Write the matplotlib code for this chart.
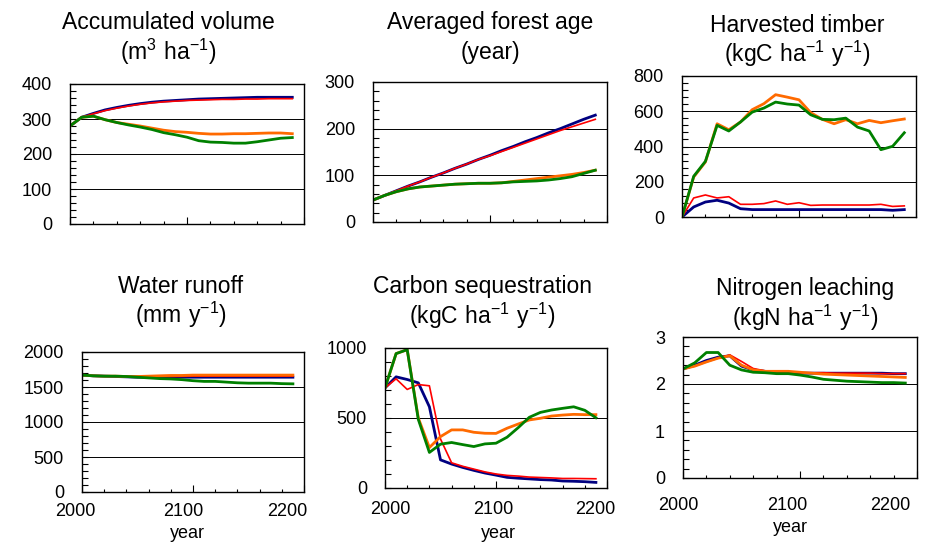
import numpy as np
import matplotlib
matplotlib.use("Agg")
import matplotlib.pyplot as plt
import matplotlib.transforms as mtrans
from matplotlib.ticker import MultipleLocator

plt.rcParams['font.family'] = ['Liberation Sans', 'DejaVu Sans']

years = list(range(2000, 2200, 10))

# accumulated volume (m3/ha)
vol_navy = [280, 305, 316, 326, 333, 339, 344, 348, 351, 353, 355, 357, 358, 359, 360, 361, 362, 362, 362, 362]
vol_red = [280, 305, 315, 324, 331, 337, 342, 346, 349, 351, 353, 354, 355, 356, 356, 357, 357, 358, 358, 358]
vol_orange = [280, 305, 308, 298, 290, 285, 280, 274, 268, 264, 262, 259, 257, 257, 258, 258, 259, 260, 260, 258]
vol_green = [280, 305, 308, 298, 290, 283, 277, 270, 261, 255, 248, 238, 234, 233, 231, 231, 235, 240, 245, 247]

# averaged forest age (year)
age_navy = [47, 57, 67, 77, 86, 96, 105, 115, 124, 134, 143, 153, 162, 172, 181, 191, 200, 210, 220, 229]
age_red = [47, 57, 67, 77, 86, 96, 105, 115, 124, 134, 142, 151, 160, 169, 178, 187, 196, 204, 212, 220]
age_orange = [47, 57, 65, 71, 75, 77, 79, 81, 82, 83, 83, 84, 87, 90, 93, 96, 99, 102, 106, 111]
age_green = [47, 57, 65, 71, 75, 77, 79, 81, 82, 83, 83, 84, 86, 87, 88, 90, 93, 97, 104, 111]

# harvested timber (kgC/ha/y)
harv_navy = [0, 57, 85, 95, 79, 47, 42, 42, 42, 42, 42, 42, 42, 42, 42, 42, 42, 42, 38, 42]
harv_red = [0, 108, 125, 108, 115, 72, 72, 76, 91, 72, 81, 66, 68, 68, 68, 68, 68, 72, 60, 63]
harv_orange = [0, 227, 312, 529, 495, 539, 609, 643, 694, 680, 665, 592, 554, 529, 552, 529, 548, 535, 546, 556]
harv_green = [0, 231, 316, 520, 488, 539, 595, 618, 652, 641, 635, 580, 554, 552, 561, 510, 488, 382, 401, 478]

# water runoff (mm/y)
run_navy = [1670, 1660, 1655, 1650, 1645, 1640, 1640, 1640, 1640, 1640, 1640, 1640, 1640, 1640, 1640, 1640, 1640, 1640, 1640, 1640]
run_red = [1670, 1660, 1655, 1655, 1650, 1648, 1648, 1650, 1650, 1652, 1655, 1655, 1655, 1655, 1655, 1655, 1655, 1655, 1655, 1655]
run_orange = [1670, 1660, 1655, 1655, 1650, 1650, 1655, 1660, 1665, 1665, 1670, 1670, 1670, 1670, 1670, 1670, 1670, 1670, 1670, 1670]
run_green = [1670, 1660, 1655, 1655, 1650, 1640, 1630, 1620, 1615, 1605, 1590, 1580, 1580, 1570, 1560, 1555, 1555, 1555, 1548, 1545]

# carbon sequestration (kgC/ha/y)
seq_navy = [715, 794, 775, 751, 580, 201, 171, 147, 126, 107, 92, 76, 70, 65, 60, 57, 50, 48, 45, 40]
seq_red = [715, 780, 704, 739, 730, 350, 180, 155, 135, 115, 100, 90, 85, 78, 75, 72, 68, 68, 67, 66]
seq_orange = [715, 960, 988, 500, 289, 367, 415, 415, 398, 391, 390, 427, 457, 486, 498, 514, 521, 526, 524, 524]
seq_green = [715, 960, 988, 490, 254, 313, 325, 310, 296, 315, 320, 363, 431, 505, 540, 557, 569, 580, 555, 502]

# nitrogen leaching (kgN/ha/y)
nit_navy = [2.32, 2.40, 2.50, 2.57, 2.60, 2.38, 2.30, 2.27, 2.25, 2.24, 2.23, 2.23, 2.23, 2.23, 2.23, 2.23, 2.23, 2.23, 2.22, 2.22]
nit_red = [2.32, 2.38, 2.47, 2.55, 2.62, 2.48, 2.33, 2.28, 2.26, 2.25, 2.24, 2.24, 2.24, 2.23, 2.23, 2.23, 2.23, 2.22, 2.22, 2.22]
nit_orange = [2.32, 2.38, 2.47, 2.55, 2.60, 2.40, 2.30, 2.27, 2.27, 2.27, 2.25, 2.23, 2.21, 2.20, 2.19, 2.18, 2.17, 2.16, 2.15, 2.14]
nit_green = [2.32, 2.45, 2.67, 2.67, 2.40, 2.30, 2.25, 2.24, 2.22, 2.22, 2.19, 2.15, 2.10, 2.08, 2.06, 2.05, 2.04, 2.03, 2.03, 2.02]

titles = ["Accumulated volume", "Averaged forest age", "Harvested timber",
          "Water runoff", "Carbon sequestration", "Nitrogen leaching"]
units = [r"$\mathregular{(m^3\ ha^{-1})}$", "(year)", r"$\mathregular{(kgC\ ha^{-1}\ y^{-1})}$",
         r"$\mathregular{(mm\ y^{-1})}$", r"$\mathregular{(kgC\ ha^{-1}\ y^{-1})}$",
         r"$\mathregular{(kgN\ ha^{-1}\ y^{-1})}$"]
series = [(vol_navy, vol_red, vol_orange, vol_green),
          (age_navy, age_red, age_orange, age_green),
          (harv_navy, harv_red, harv_orange, harv_green),
          (run_navy, run_red, run_orange, run_green),
          (seq_navy, seq_red, seq_orange, seq_green),
          (nit_navy, nit_red, nit_orange, nit_green)]
ymax = [400, 300, 800, 2000, 1000, 3]
ymajor = [100, 100, 200, 500, 500, 1]
yminor = [20, 20, 40, 100, 100, 0.2]
xlabels = [2000, 2100, 2200]

# panel boxes in pixels: left, right, top, bottom
boxes = [(70, 304, 84, 224), (373, 607, 82, 222), (682, 916, 76, 217),
         (82, 304, 352, 492), (385, 607, 348, 488), (683, 917, 337, 478)]
# title centre x, baseline y of both lines
title_pos = [(168, 29, 60), (490, 29, 59), (797, 32, 62),
             (181, 293, 323), (482, 293, 324), (805, 295, 326)]
# bottom row: year labels sit this far below the axis, shifted sideways (px)
xdrop = [20, 22, 27]
xshift = [(-7, -10, -17), (5, -3, -12), (-5, -13, -27)]
year_pos = [(187, 533), (498, 533), (790, 528)]

colors = ["#000080", "#ff0000", "#ff6a00", "#008000"]
widths = [2.0, 1.2, 2.0, 2.0]

W, H = 930, 545
fig = plt.figure(figsize=(W / 100, H / 100), dpi=100)

for i in range(6):
    l, r, t, b = boxes[i]
    ax = fig.add_axes([l / W, 1 - b / H, (r - l) / W, (b - t) / H])
    for s, c, lw in zip(series[i], colors, widths):
        ax.plot(years, s, color=c, lw=lw, solid_joinstyle='round')
    ax.set_xlim(2000, 2200)
    ax.set_ylim(0, ymax[i])
    ax.yaxis.set_major_locator(MultipleLocator(ymajor[i]))
    ax.yaxis.set_minor_locator(MultipleLocator(yminor[i]))
    ax.xaxis.set_major_locator(MultipleLocator(100))
    ax.xaxis.set_minor_locator(MultipleLocator(20))
    ax.yaxis.grid(True, which='major', color='black', lw=0.7)
    ax.set_axisbelow(True)
    ax.tick_params(axis='y', which='both', direction='in', length=4, width=0.8,
                   labelsize=13, pad=13)
    ax.tick_params(axis='x', which='major', direction='in', length=5, width=0.8,
                   labelbottom=False)
    ax.tick_params(axis='x', which='minor', direction='in', length=2.5, width=0.8)
    for sp in ax.spines.values():
        sp.set_linewidth(1.0)
    if i >= 3:
        j = i - 3
        base = ax.get_xaxis_transform()
        for yr, dx in zip(xlabels, xshift[j]):
            tr = base + mtrans.ScaledTranslation(dx / 100, -xdrop[j] / 100, fig.dpi_scale_trans)
            ax.text(yr, 0, str(yr), transform=tr, ha='center', va='center',
                    fontsize=13, clip_on=False)
        fig.text(year_pos[j][0] / W, 1 - year_pos[j][1] / H, "year",
                 ha='center', va='center', fontsize=13)
    cx, y1, y2 = title_pos[i]
    fig.text(cx / W, 1 - y1 / H, titles[i], ha='center', va='baseline', fontsize=16.5)
    fig.text(cx / W, 1 - y2 / H, units[i], ha='center', va='baseline', fontsize=16.5)

plt.savefig("out.png", dpi=100)
